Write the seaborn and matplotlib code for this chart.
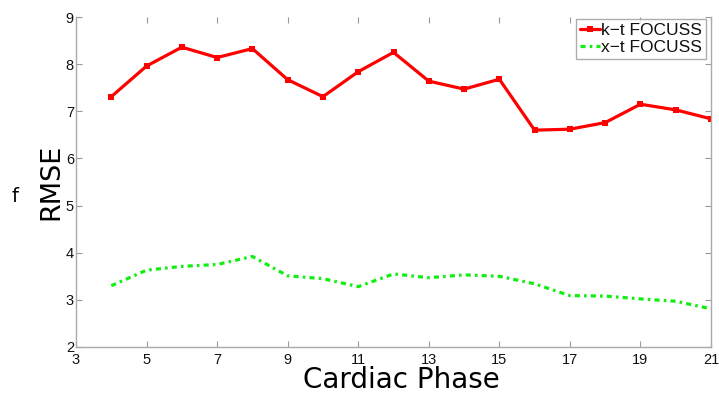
import numpy as np
import pandas as pd
import matplotlib
matplotlib.use("Agg")
import matplotlib.pyplot as plt
import seaborn as sns

phase = list(range(4, 22))
kt_focuss = [7.31, 7.96, 8.36, 8.14, 8.33, 7.67, 7.31, 7.84, 8.25, 7.64, 7.47, 7.68,
             6.60, 6.62, 6.76, 7.15, 7.03, 6.84]
xt_focuss = [3.30, 3.63, 3.71, 3.75, 3.92, 3.51, 3.45, 3.28, 3.55, 3.47, 3.53, 3.50,
             3.34, 3.09, 3.08, 3.02, 2.97, 2.81]
series_names = ["k\u2212t FOCUSS", "x\u2212t FOCUSS"]
xticks = list(range(3, 22, 2))
yticks = list(range(2, 10))

sns.set_style("white")
plt.rcParams['font.family'] = ['Liberation Sans', 'DejaVu Sans']
plt.rcParams['text.color'] = 'black'

df = pd.DataFrame({
    "phase": phase * 2,
    "rmse": kt_focuss + xt_focuss,
    "method": [series_names[0]] * len(phase) + [series_names[1]] * len(phase),
})

fig = plt.figure(figsize=(7.19, 3.96), dpi=100)
ax = fig.add_axes([76 / 719, 1 - 347 / 396, (711 - 76) / 719, (347 - 17) / 396])

sns.lineplot(data=df[df.method == series_names[0]], x="phase", y="rmse", ax=ax,
             color="#ff0000", lw=2.3, marker="s", markersize=4.5, markeredgewidth=0,
             label=series_names[0])
sns.lineplot(data=df[df.method == series_names[1]], x="phase", y="rmse", ax=ax,
             color="#11ee11", lw=2.3, linestyle=(0, (1.6, 1.3, 0.8, 1.3)),
             label=series_names[1])

ax.set_xlim(3, 21)
ax.set_ylim(2, 9)
ax.set_xticks(xticks)
ax.set_yticks(yticks)
ax.tick_params(direction="in", length=4, width=0.8, color="#999999",
               labelsize=10.5, top=True, right=True, bottom=True, left=True,
               labelcolor="#111111")
ax.tick_params(axis="x", pad=4)
ax.tick_params(axis="y", pad=1.5)
for s in ["left", "right", "bottom"]:
    ax.spines[s].set_color("#aaaaaa")
    ax.spines[s].set_linewidth(1.0)
ax.spines["top"].set_visible(False)

W, H = (711 - 76), (347 - 17)
ax.set_xlabel("Cardiac Phase", fontsize=20, family="DejaVu Sans", color="black")
ax.xaxis.set_label_coords((401 - 76) / W, -(388 - 347) / H)
ax.xaxis.label.set_va("baseline")
ax.set_ylabel("RMSE", fontsize=19.5, family="DejaVu Sans", color="black")
ax.yaxis.set_label_coords(-(76 - 51) / W, 0.5)
ax.yaxis.label.set_va("center")
ax.yaxis.label.set_ha("center")
fig.text(15 / 719, 1 - 196 / 396, "f", fontsize=14, family="DejaVu Sans",
         ha="center", va="center")

leg = ax.legend(loc="upper right", bbox_to_anchor=(0.997, 1.003), fontsize=12.5,
                frameon=True, fancybox=False, borderpad=0.2, handlelength=1.2,
                handletextpad=0.05, labelspacing=0.12, borderaxespad=0.2)
leg.get_frame().set_edgecolor("#999999")
leg.get_frame().set_linewidth(1.0)
for t in leg.get_texts():
    t.set_color("#111111")

fig.savefig("out.png", dpi=100)
